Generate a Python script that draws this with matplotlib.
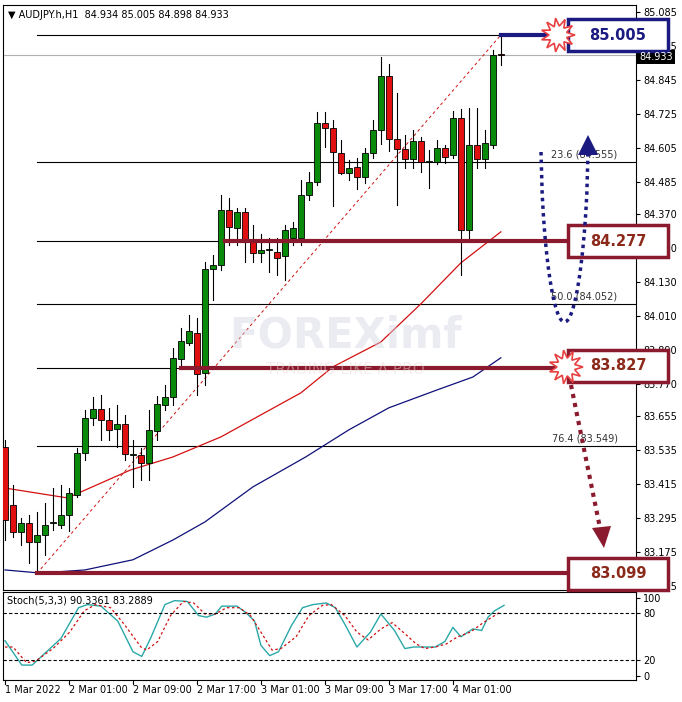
import matplotlib
matplotlib.use("Agg")
import matplotlib.pyplot as plt
from matplotlib.patches import Rectangle, Polygon
import numpy as np

# hourly candles, AUDJPY H1 (open, high, low, close)
opens = [83.547, 83.341, 83.246, 83.278, 83.210, 83.235, 83.278, 83.270, 83.306, 83.377,
         83.525, 83.649, 83.681, 83.642, 83.610, 83.628, 83.518, 83.518, 83.490, 83.603,
         83.695, 83.724, 83.858, 83.915, 83.950, 83.809, 84.177, 84.191, 84.386, 84.322,
         84.378, 84.279, 84.233, 84.244, 84.237, 84.223, 84.286, 84.286, 84.439, 84.485,
         84.694, 84.676, 84.587, 84.516, 84.538, 84.502, 84.587, 84.669, 84.860, 84.637,
         84.601, 84.566, 84.630, 84.555, 84.555, 84.605, 84.580, 84.711, 84.315, 84.616,
         84.566, 84.616, 84.934]
closes = [83.288, 83.246, 83.278, 83.210, 83.235, 83.270, 83.280, 83.306, 83.384, 83.525,
          83.649, 83.681, 83.642, 83.607, 83.628, 83.522, 83.522, 83.490, 83.607, 83.699,
          83.724, 83.862, 83.922, 83.957, 83.805, 84.177, 84.191, 84.386, 84.325, 84.378,
          84.272, 84.233, 84.244, 84.246, 84.216, 84.315, 84.322, 84.439, 84.485, 84.694,
          84.676, 84.591, 84.516, 84.534, 84.502, 84.587, 84.669, 84.860, 84.637, 84.601,
          84.566, 84.630, 84.555, 84.557, 84.605, 84.573, 84.711, 84.315, 84.616, 84.566,
          84.623, 84.934, 84.933]
highs = [83.571, 83.412, 83.295, 83.306, 83.316, 83.348, 83.401, 83.412, 83.400, 83.543,
         83.678, 83.724, 83.731, 83.685, 83.695, 83.660, 83.571, 83.543, 83.678, 83.727,
         83.766, 83.897, 83.968, 84.014, 84.003, 84.201, 84.226, 84.439, 84.428, 84.392,
         84.392, 84.332, 84.300, 84.286, 84.286, 84.332, 84.343, 84.492, 84.520, 84.733,
         84.733, 84.704, 84.633, 84.562, 84.569, 84.605, 84.704, 84.927, 84.902, 84.800,
         84.652, 84.669, 84.644, 84.599, 84.633, 84.615, 84.737, 84.744, 84.747, 84.747,
         84.669, 84.952, 85.005]
lows = [83.217, 83.228, 83.200, 83.136, 83.099, 83.164, 83.253, 83.260, 83.250, 83.370,
        83.500, 83.624, 83.571, 83.571, 83.547, 83.500, 83.405, 83.430, 83.430, 83.571,
        83.678, 83.695, 83.837, 83.908, 83.731, 83.766, 84.067, 84.173, 84.262, 84.262,
        84.201, 84.201, 84.201, 84.166, 84.155, 84.138, 84.262, 84.262, 84.421, 84.474,
        84.609, 84.400, 84.513, 84.491, 84.459, 84.481, 84.569, 84.619, 84.594, 84.403,
        84.534, 84.534, 84.520, 84.464, 84.548, 84.552, 84.569, 84.155, 84.286, 84.534,
        84.534, 84.605, 84.898]

# moving averages (read at candle positions)
ma_red_x = [0, 7.8, 15.7, 21, 27, 32, 37, 41, 47, 52, 57, 62]
ma_red = [83.401, 83.366, 83.465, 83.511, 83.582, 83.660, 83.738, 83.830, 83.918, 84.053, 84.198, 84.308]
ma_blue_x = [0, 4.4, 10, 16, 21, 25, 31, 37.6, 43, 48, 54, 58.5, 62]
ma_blue = [83.111, 83.100, 83.111, 83.147, 83.217, 83.281, 83.405, 83.511, 83.607, 83.685, 83.748, 83.794, 83.862]

# stochastic
k_x = [0, 2.1, 3.4, 5.2, 7, 9.2, 10.3, 12, 14.1, 16, 17.1, 18.2, 20, 21.2, 22.8, 24.2, 25.2, 26.3,
       27.1, 29, 30.1, 31.2, 32, 33.1, 34.2, 35.8, 37.2, 38.5, 40.2, 41.3, 42.6, 44, 45.7, 47, 48.7,
       50, 51.1, 52.5, 53.8, 55, 56, 57, 58.5, 59.6, 60.4, 61.2, 62.4]
k_val = [45, 14, 14, 31, 48, 87, 91, 89, 70, 31, 25, 48, 91, 96, 95, 77, 75, 79,
         89, 89, 81, 70, 39, 26, 31, 64, 87, 91, 93, 87, 64, 37, 56, 79, 58,
         35, 37, 37, 37, 44, 62, 50, 60, 58, 75, 83, 90]
d_x = [0, 1, 2.7, 3.8, 6, 8.1, 9.9, 11.3, 13.2, 14.9, 17, 17.7, 19.1, 20.7, 22.3, 23.6, 25, 26.3,
       27.7, 29.3, 30.7, 32, 33.4, 34.5, 36.4, 38, 39.7, 40.8, 42.5, 44, 45.4, 47, 48.4, 50, 51.4,
       52.5, 53.8, 55.2, 56.6, 58.2, 59.8, 62]
d_val = [37, 37, 17, 19, 35, 56, 83, 91, 87, 66, 37, 33, 44, 77, 95, 93, 79, 79,
         87, 87, 77, 56, 33, 35, 50, 77, 90, 91, 77, 56, 46, 60, 68, 54, 41,
         35, 37, 41, 50, 56, 68, 82]

price_ticks = [85.085, 84.965, 84.845, 84.725, 84.605, 84.485, 84.370, 84.250, 84.130, 84.010,
               83.890, 83.770, 83.655, 83.535, 83.415, 83.295, 83.175, 83.055]
date_labels = ["1 Mar 2022", "2 Mar 01:00", "2 Mar 09:00", "2 Mar 17:00",
               "3 Mar 01:00", "3 Mar 09:00", "3 Mar 17:00", "4 Mar 01:00"]

fib_levels = [85.005, 84.555, 84.052, 83.549]
fib_texts = {84.555: "23.6 (84.555)", 84.052: "50.0 (84.052)", 83.549: "76.4 (83.549)"}
swing_low, swing_high = 83.099, 85.005
low_idx, high_idx = 4, 62
last_price = 84.933

W, H = 682, 702
fig = plt.figure(figsize=(W / 100, H / 100), dpi=100)
fig.patch.set_facecolor("white")

XMIN, XMAX = -0.25, 78.9
ax = fig.add_axes([3 / W, 112 / H, 633 / W, 585 / H])
ax.set_xlim(XMIN, XMAX)
ax.set_ylim(83.040, 85.111)
sx = fig.add_axes([3 / W, 22 / H, 633 / W, 88 / H])
sx.set_xlim(XMIN, XMAX)
sx.set_ylim(-5, 107)

for a in (ax, sx):
    a.tick_params(axis="x", bottom=False, labelbottom=False)
    a.yaxis.tick_right()
    a.tick_params(axis="y", labelsize=7, length=3, pad=2, colors="black")
    for s in a.spines.values():
        s.set_linewidth(0.8)

ax.set_yticks(price_ticks)
ax.set_yticklabels([f"{t:.3f}" for t in price_ticks])

# candles
for i in range(len(opens)):
    o, c, h, l = opens[i], closes[i], highs[i], lows[i]
    col = "#0a8a0a" if c >= o else "#e01010"
    ax.plot([i, i], [l, h], color="black", lw=0.8, zorder=3)
    body = max(abs(c - o), 0.003)
    ax.add_patch(Rectangle((i - 0.35, min(o, c)), 0.7, body, facecolor=col,
                           edgecolor="black", lw=0.6, zorder=4))

ax.plot(ma_red_x, ma_red, color="#d41010", lw=0.9, zorder=2)
ax.plot(ma_blue_x, ma_blue, color="#10107a", lw=0.9, zorder=2)

# fibonacci levels
for lv in fib_levels + [84.277, 83.827]:
    ax.plot([low_idx, XMAX], [lv, lv], color="black", lw=0.8, zorder=1)
for lv, t in fib_texts.items():
    ax.text(76.6, lv + 0.008, t, fontsize=7, ha="right", va="bottom", color="#333333")
ax.axhline(last_price, color="#b0b0b0", lw=0.8, zorder=1)
ax.plot([low_idx, high_idx], [swing_low, swing_high], color="#d01010", lw=0.7,
        ls=(0, (3, 3)), zorder=2)

# thick key levels
ax.plot([27.5, 70.5], [84.277, 84.277], color="#8b1a2e", lw=3, zorder=5)
ax.plot([22, 70], [83.827, 83.827], color="#8b1a2e", lw=3, zorder=5)
ax.plot([low_idx, 70], [83.099, 83.099], color="#8b1a2e", lw=3, zorder=5)
ax.plot([62, 68], [85.005, 85.005], color="#1a1a80", lw=3, zorder=5)

# stochastic
sx.plot(k_x, k_val, color="#2aa8a8", lw=1.0)
sx.plot(d_x, d_val, color="#d01010", lw=0.9, ls=(0, (2, 2)))
for lv in (80, 20):
    sx.axhline(lv, color="black", lw=0.8, ls=(0, (3, 2)))
sx.set_yticks([100, 80, 20, 0])
sx.set_yticklabels(["100", "80", "20", "0"])
sx.text(0.2, 103, "Stoch(5,3,3) 90.3361 83.2889", fontsize=7, va="top")

# overlay in pixel space for annotations
ov = fig.add_axes([0, 0, 1, 1], zorder=10)
ov.set_xlim(0, W)
ov.set_ylim(H, 0)
ov.axis("off")

ov.text(8, 15, "▼ AUDJPY.h,H1  84.934 85.005 84.898 84.933", fontsize=7, va="center")
ov.add_patch(Rectangle((637, 50), 38, 14, facecolor="black"))
ov.text(656, 57, "84.933", color="white", fontsize=7, ha="center", va="center")

for i, lab in enumerate(date_labels):
    x = 5 + 64 * i
    ov.plot([x, x], [680, 684], color="black", lw=0.8)
    ov.text(x, 690, lab, fontsize=7, ha="left", va="center")

ov.text(345, 335, "FOREXimf", fontsize=30, fontweight="bold", color="#d4d6e2",
        alpha=0.45, ha="center", va="center", zorder=0)
ov.text(345, 370, "TRADING LIKE A PRO", fontsize=11, color="#ecd8d8", alpha=0.45,
        ha="center", va="center", zorder=0)

boxes = [(35, "85.005", "#1a1a80"), (241, "84.277", "#8b1a2e"),
         (366, "83.827", "#8b1a2e"), (574, "83.099", "#8b1a2e")]
for y, t, col in boxes:
    ov.add_patch(Rectangle((568, y - 16), 100, 32, facecolor="white", edgecolor=col, lw=2.5))
    ov.text(618, y, t, fontsize=10.5, fontweight="bold",
            color=col if col == "#1a1a80" else "#8b2a1a", ha="center", va="center")


def star(cx, cy, r1, r2, n=11):
    ang = np.linspace(0, 2 * np.pi, 2 * n, endpoint=False)
    rr = np.where(np.arange(2 * n) % 2 == 0, r1, r2)
    return np.column_stack([cx + rr * np.cos(ang), cy + rr * np.sin(ang)])


for cx, cy in [(558, 35), (566, 367)]:
    ov.add_patch(Polygon(star(cx, cy, 17, 9), facecolor="white", edgecolor="#e84040", lw=1.2))

# scenario arrows
t = np.linspace(0, 1, 40)
ux = 541 + (588 - 541) * t
uy = 152 + 170 * (1 - (2 * t - 1) ** 2) ** 0.6
ov.plot(ux, uy, color="#1a1a80", lw=2.5, ls=(0, (1, 1.2)))
ov.add_patch(Polygon([[578, 155], [598, 155], [588, 135]], facecolor="#1a1a80"))
ov.plot([571, 600], [385, 528], color="#8b1a2e", lw=3, ls=(0, (1, 1.2)))
ov.add_patch(Polygon([[592, 528], [611, 526], [604, 548]], facecolor="#8b1a2e"))

fig.savefig("out.png", dpi=100)
